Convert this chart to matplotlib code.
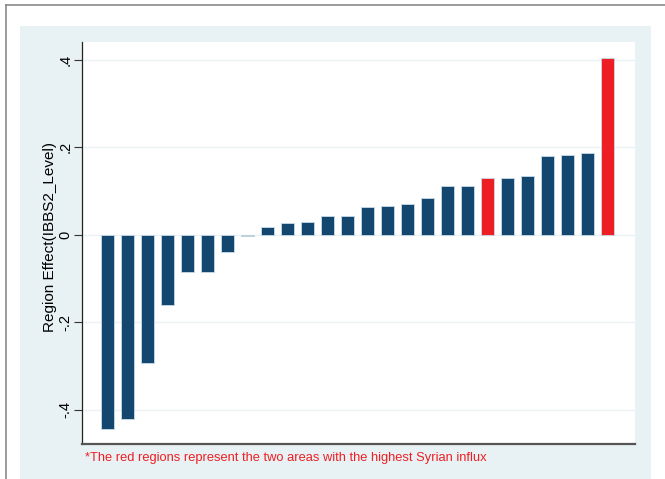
import matplotlib.pyplot as plt
from matplotlib.patches import Rectangle
from matplotlib.lines import Line2D

# ------------------------------
# Datos (efecto por región, ordenado)
# ------------------------------
region_effect = [-0.443, -0.420, -0.293, -0.160, -0.085, -0.085, -0.040, -0.003,
                 0.017, 0.028, 0.029, 0.043, 0.044, 0.063, 0.065, 0.070, 0.084,
                 0.111, 0.111, 0.131, 0.131, 0.134, 0.180, 0.183, 0.187, 0.405]
highest_influx = [20, 26]  # posiciones (1-based) en rojo
ytick_vals = [-0.4, -0.2, 0, 0.2, 0.4]
ytick_labels = ["-.4", "-.2", "0", ".2", ".4"]

NAVY = "#134770"
RED = "#ee1f24"
PANEL = "#e8f1f3"

plt.rcParams['font.family'] = ['Liberation Sans', 'DejaVu Sans']

fig = plt.figure(figsize=(6.65, 4.79), dpi=100)
fig.patch.set_facecolor("white")

# panel de fondo tipo Stata + borde gris
fig.add_artist(Rectangle((20 / 665, 0), (651 - 20) / 665, 1 - 26 / 479,
                         transform=fig.transFigure, facecolor=PANEL,
                         edgecolor="none", zorder=0))
fig.add_artist(Line2D([6 / 665, 6 / 665], [0, 1 - 5 / 479], transform=fig.transFigure,
                      color="#8a8a8a", lw=1.2))
fig.add_artist(Line2D([6 / 665, 1], [1 - 5 / 479, 1 - 5 / 479], transform=fig.transFigure,
                      color="#8a8a8a", lw=1.2))

ax = fig.add_axes([82 / 665, 1 - 444 / 479, (635 - 82) / 665, (444 - 42) / 479])
ax.set_facecolor("white")

x = list(range(1, len(region_effect) + 1))
colores = [RED if i in highest_influx else NAVY for i in x]
ax.bar(x, region_effect, width=0.67, color=colores, edgecolor="#c9dbe6",
       linewidth=0.6, zorder=3)

ax.set_xlim(-0.285, 27.37)
ax.set_ylim(-0.478, 0.441)
ax.set_xticks([])
ax.set_yticks(ytick_vals)
ax.set_yticklabels(ytick_labels, rotation=90, va="center", fontsize=10.5)
ax.tick_params(axis="y", length=6, width=0.8, pad=1, color="#333333")
ax.grid(axis="y", color="#eaf2f4", linewidth=1.0, zorder=0)

for s in ["top", "right"]:
    ax.spines[s].set_visible(False)
ax.spines["left"].set_color("#222222")
ax.spines["left"].set_linewidth(0.9)
ax.spines["bottom"].set_color("#555555")
ax.spines["bottom"].set_linewidth(1.6)

ax.set_ylabel("Region Effect(IBBS2_Level)", fontsize=11, labelpad=1)
ax.yaxis.label.set_y(0.514)

fig.text(85 / 665, 1 - 458 / 479,
         "*The red regions represent the two areas with the highest Syrian influx",
         color=RED, fontsize=9.3, va="center", ha="left")

fig.savefig("out.png", dpi=100)
